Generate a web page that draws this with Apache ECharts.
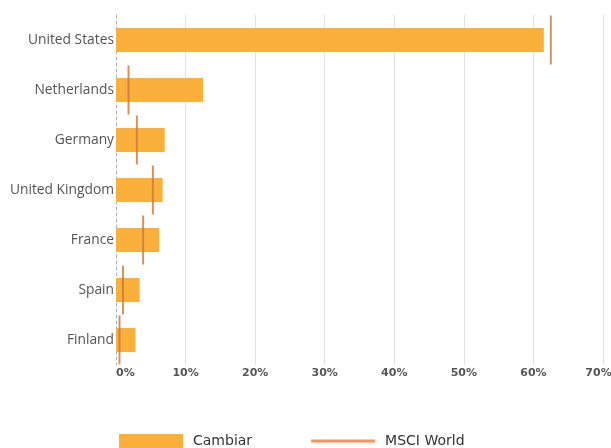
<!DOCTYPE html>
<html><head><meta charset="utf-8">
<script src="https://cdn.jsdelivr.net/npm/echarts@6/dist/echarts.min.js"></script>
<style>html,body{margin:0;padding:0;background:#fff}#c{width:611px;height:448px}</style>
</head><body><div id="c"></div>
<script>
const categories = ['United States','Netherlands','Germany','United Kingdom','France','Spain','Finland'];
const cambiar = [61.5, 12.5, 7.0, 6.7, 6.2, 3.4, 2.8];
const msciWorld = [62.5, 1.8, 3.0, 5.3, 3.9, 1.0, 0.5];
const xTicks = [0, 10, 20, 30, 40, 50, 60, 70];

const chart = echarts.init(document.getElementById('c'), null, {renderer:'canvas'});
chart.setOption({
  animation:false,
  backgroundColor:'#fff',
  grid:{left:116,right:8,top:15,bottom:83,containLabel:false,outerBoundsMode:'none'},
  xAxis:{type:'value',min:xTicks[0],max:xTicks[xTicks.length-1],interval:10,
    axisLine:{show:false},axisTick:{show:false},
    axisLabel:{formatter:function(v){return v===xTicks[xTicks.length-1]?'{m|'+v+'%}':v+'%';},
      rich:{m:{color:'#555',fontSize:11,fontWeight:'bold',fontFamily:'DejaVu Sans',padding:[0,9,0,0]}},
      color:'#555',fontSize:11,fontWeight:'bold',fontFamily:'DejaVu Sans',margin:3,alignMinLabel:'left'},
    splitLine:{show:true,lineStyle:{color:['rgba(0,0,0,0)','#e2e2e2','#e2e2e2','#e2e2e2','#e2e2e2','#e2e2e2','#e2e2e2','#e2e2e2'],width:1}}},
  yAxis:{type:'category',data:categories,inverse:true,
    axisLine:{show:true,lineStyle:{color:'#a9b0bb',type:[3,3],width:1}},
    axisTick:{show:false},
    axisLabel:{color:'#555',fontSize:13.8,fontFamily:'Open Sans',margin:2}},
  legend:{top:434,left:119,padding:0,itemWidth:64,itemHeight:14,itemGap:59,
    textStyle:{color:'#333',fontSize:14,fontFamily:'DejaVu Sans',padding:[0,0,0,5]},
    data:[{name:'Cambiar',icon:'rect'},{name:'MSCI World',icon:'path://M0,0 L65,0 L65,3 L0,3 Z',itemStyle:{color:'#f47a2c'}}]},
  series:[
    {name:'Cambiar',type:'bar',data:cambiar,barWidth:24,itemStyle:{color:'#fbb03b'},z:2},
    {name:'MSCI World',type:'scatter',data:msciWorld,symbol:'rect',symbolSize:[2,49],itemStyle:{color:'#c9783a'},z:3}
  ]
});
</script></body></html>
